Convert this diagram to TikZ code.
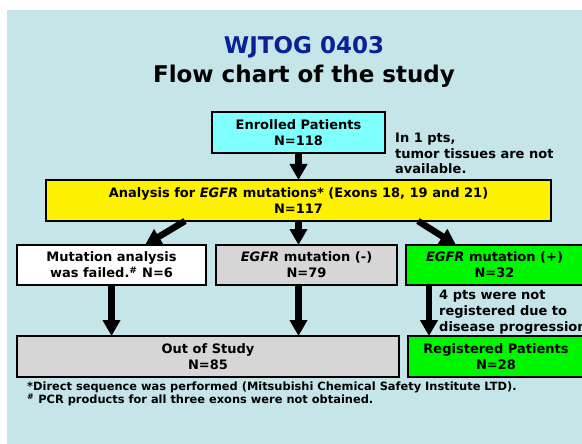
\documentclass[tikz,border=0pt]{standalone}
\usepackage{fontspec}
\setmainfont{DejaVu Sans}
\usepackage{tikz}
\usetikzlibrary{arrows.meta}

\definecolor{bgblue}{RGB}{197,229,232}
\definecolor{titleblue}{RGB}{10,32,150}
\definecolor{boxcyan}{RGB}{128,255,255}
\definecolor{boxgray}{RGB}{214,214,214}
\definecolor{boxgreen}{RGB}{0,245,0}

\begin{document}
\begin{tikzpicture}[x=1pt, y=-1pt,
    box/.style={draw=black, line width=2pt, inner sep=0pt, outer sep=0pt, align=center,
      minimum height=41pt, font=\fontsize{13}{16}\selectfont\bfseries},
    note/.style={inner sep=0pt, align=left, font=\fontsize{13}{16}\selectfont\bfseries},
    fat/.style={line width=6.5pt, -{Triangle[width=17pt,length=16pt]}}]
    \useasboundingbox (0,0) rectangle (582,444);
    \fill[bgblue] (7,10) rectangle (582,444);

    % title
    \node[anchor=base, text=titleblue, font=\fontsize{23}{28}\selectfont\bfseries] (title) at (304,54) {WJTOG 0403};
    \node[anchor=base, font=\fontsize{23}{28}\selectfont\bfseries] (subtitle) at (304,83) {Flow chart of the study};

    % boxes
    \node[box, fill=boxcyan, minimum width=173pt] (enrolled) at (298.5,132.5) {Enrolled Patients\\N=118};
    \node[box, fill=yellow, minimum width=505pt] (analysis) at (298.5,200.5)
        {Analysis for \textit{EGFR} mutations* (Exons 18, 19 and 21)\\N=117};
    \node[box, fill=white, minimum width=189pt, minimum height=40pt] (failed) at (111.5,265)
        {Mutation analysis\\was failed.\textsuperscript{\#} N=6};
    \node[box, fill=boxgray, minimum width=181pt, minimum height=40pt] (negative) at (306.5,265)
        {\textit{EGFR} mutation (-)\\N=79};
    \node[box, fill=boxgreen, minimum width=177pt, minimum height=40pt] (positive) at (494.5,265)
        {\textit{EGFR} mutation (+)\\N=32};
    \node[box, fill=boxgray, minimum width=382pt] (outstudy) at (208,356.5) {Out of Study\\N=85};
    \node[box, fill=boxgreen, minimum width=176pt] (registered) at (496,356.5) {Registered Patients\\N=28};

    % side notes (base = last line)
    \node[note, anchor=base west] (missing) at (395,174) {In 1 pts,\\tumor tissues are not\\available.};
    \node[note, anchor=base west] (progress) at (439,331) {4 pts were not\\registered due to\\disease progression};

    % arrows
    \coordinate (failtop) at ([xshift=128pt]failed.north west);
    \coordinate (postop) at ([xshift=50pt]positive.north west);
    \coordinate (posbot) at ([xshift=23pt]positive.south west);
    \draw[fat] (enrolled) -- (analysis);
    \draw[fat] ([xshift=139pt]analysis.south west) -- (failtop);
    \draw[fat] (analysis) -- (analysis |- negative.north);
    \draw[fat] ([xshift=-133pt]analysis.south east) -- (postop);
    \draw[fat] (failed) -- (failed |- outstudy.north);
    \draw[fat] (enrolled |- negative.south) -- (enrolled |- outstudy.north);
    \draw[fat] (posbot) -- (posbot |- registered.north);

    % footnotes
    \node[note, anchor=base west, font=\fontsize{11.4}{12.5}\selectfont\bfseries] (footnotes) at (27,403)
        {*Direct sequence was performed (Mitsubishi Chemical Safety Institute LTD).\\
         \textsuperscript{\#} PCR products for all three exons were not obtained.};
\end{tikzpicture}
\end{document}
